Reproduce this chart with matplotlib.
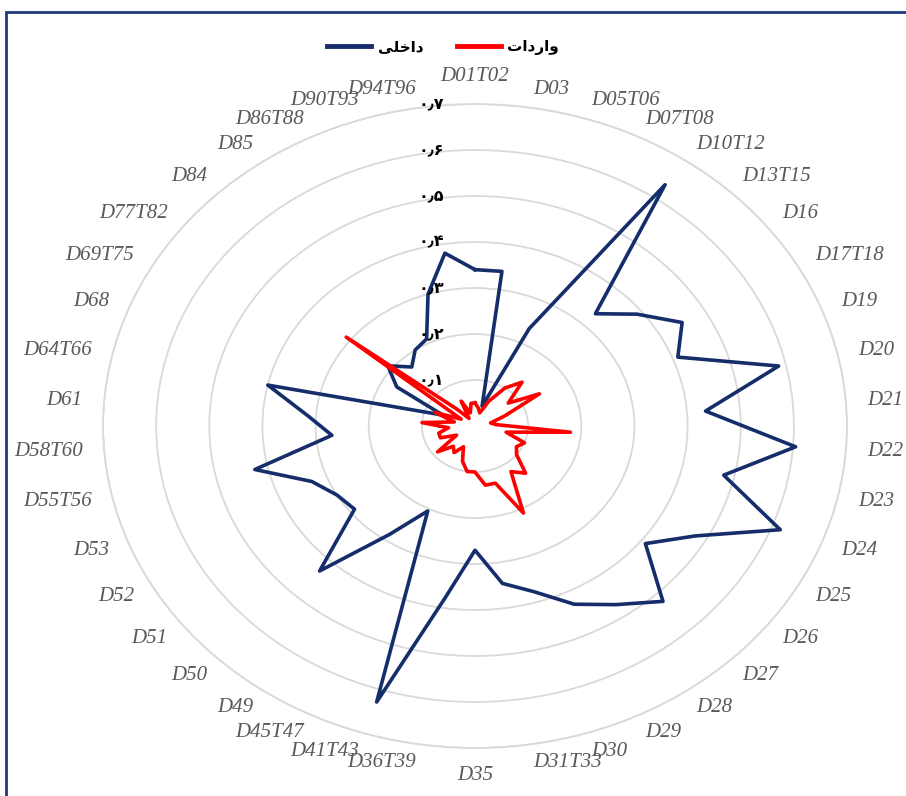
import numpy as np
import matplotlib
matplotlib.use('Agg')
import matplotlib.pyplot as plt
from matplotlib.patches import Rectangle
from matplotlib.lines import Line2D

# sectors (42 categories, clockwise from top)
categories = ['D01T02', 'D03', 'D05T06', 'D07T08', 'D10T12', 'D13T15', 'D16',
              'D17T18', 'D19', 'D20', 'D21', 'D22', 'D23', 'D24', 'D25', 'D26',
              'D27', 'D28', 'D29', 'D30', 'D31T33', 'D35', 'D36T39', 'D41T43',
              'D45T47', 'D49', 'D50', 'D51', 'D52', 'D53', 'D55T56', 'D58T60',
              'D61', 'D64T66', 'D68', 'D69T75', 'D77T82', 'D84', 'D85', 'D86T88',
              'D90T93', 'D94T96']

# داخلی (domestic)
domestic = [0.34, 0.34, 0.045, 0.235, 0.635, 0.333, 0.39, 0.45, 0.41, 0.586,
            0.435, 0.605, 0.48, 0.617, 0.478, 0.41, 0.52, 0.47, 0.43, 0.377,
            0.346, 0.27, 0.378, 0.628, 0.205, 0.285, 0.43, 0.29, 0.30, 0.33,
            0.425, 0.27, 0.317, 0.40, 0.065, 0.17, 0.21, 0.175, 0.2, 0.21,
            0.3, 0.38]

# واردات (imports)
imports = [0.05, 0.04, 0.03, 0.06, 0.1, 0.13, 0.08, 0.14, 0.06, 0.03,
           0.04, 0.18, 0.06, 0.1, 0.09, 0.1, 0.14, 0.12, 0.21, 0.13,
           0.13, 0.1, 0.1, 0.08, 0.05, 0.07, 0.06, 0.09, 0.04, 0.07,
           0.07, 0.05, 0.1, 0.04, 0.08, 0.03, 0.31, 0.05, 0.02, 0.06,
           0.03, 0.05]

r_ticks = [0, 0.1, 0.2, 0.3, 0.4, 0.5, 0.6, 0.7]
r_tick_labels = ['۰', '۰٫۱', '۰٫۲', '۰٫۳', '۰٫۴', '۰٫۵', '۰٫۶', '۰٫۷']

# legend text, written in shaped glyphs in visual order (matplotlib has no bidi)
label_domestic = '\uFBFD\uFEE0\uFEA7\uFE8D\uFEA9'          # داخلی
label_imports = '\uFE95\uFE8D\uFEA9\uFEAD\uFE8D\uFEED'     # واردات

navy = '#152E6B'
red = '#FF0000'
ring = '#D9D9D9'

fig = plt.figure(figsize=(9.06, 7.96), dpi=100)
ax = fig.add_axes([0.1137, 0.0603, 0.8212, 0.809], projection='polar')
ax.set_aspect('auto')
ax.set_theta_zero_location('N')
ax.set_theta_direction(-1)

n = len(categories)
angles = np.arange(n) * 2 * np.pi / n
ang_c = np.append(angles, angles[0])

ax.plot(ang_c, domestic + domestic[:1], color=navy, lw=2.6, zorder=3)
ax.plot(ang_c, imports + imports[:1], color=red, lw=2.6, zorder=4)

ax.set_ylim(0, 0.7)
ax.set_yticks(r_ticks)
ax.set_yticklabels([])
ax.set_xticks(angles)
ax.set_xticklabels([])
ax.xaxis.grid(False)
ax.yaxis.grid(True, color=ring, lw=1.3)
ax.spines['polar'].set_color(ring)
ax.spines['polar'].set_linewidth(1.3)
ax.tick_params(length=0)

# value labels left of the vertical axis
for r, lab in zip(r_ticks, r_tick_labels):
    ax.annotate(lab, xy=(0, r), xytext=(-22, 0), textcoords='offset points',
                ha='right', va='center', fontsize=11.5, fontweight='bold',
                family='DejaVu Sans', color='black')

# category labels
for a, lab in zip(angles, categories):
    s, c = np.sin(a), np.cos(a)
    ha = 'left' if s > 0.02 else ('right' if s < -0.02 else 'center')
    va = 'center'
    if c > 0.999:
        va = 'bottom'
    elif c < -0.999:
        va = 'top'
    ax.text(a, 0.74, lab, ha=ha, va=va, fontsize=15, style='italic',
            family='Liberation Serif', color='#595959')

handles = [Line2D([], [], color=navy, lw=3.5), Line2D([], [], color=red, lw=3.5)]
fig.legend(handles, [label_domestic, label_imports], loc='center',
           bbox_to_anchor=(0.489, 0.941), ncol=2, frameon=False,
           handlelength=2.9, columnspacing=2.2, handletextpad=0.4,
           prop={'family': 'DejaVu Sans', 'weight': 'bold', 'size': 11})

fig.patches.append(Rectangle((6 / 906, -0.1), 1.2, 1 - 12 / 796 + 0.1,
                             transform=fig.transFigure, fill=False,
                             edgecolor='#1F3A78', lw=2))

fig.savefig('out.png', dpi=100)
